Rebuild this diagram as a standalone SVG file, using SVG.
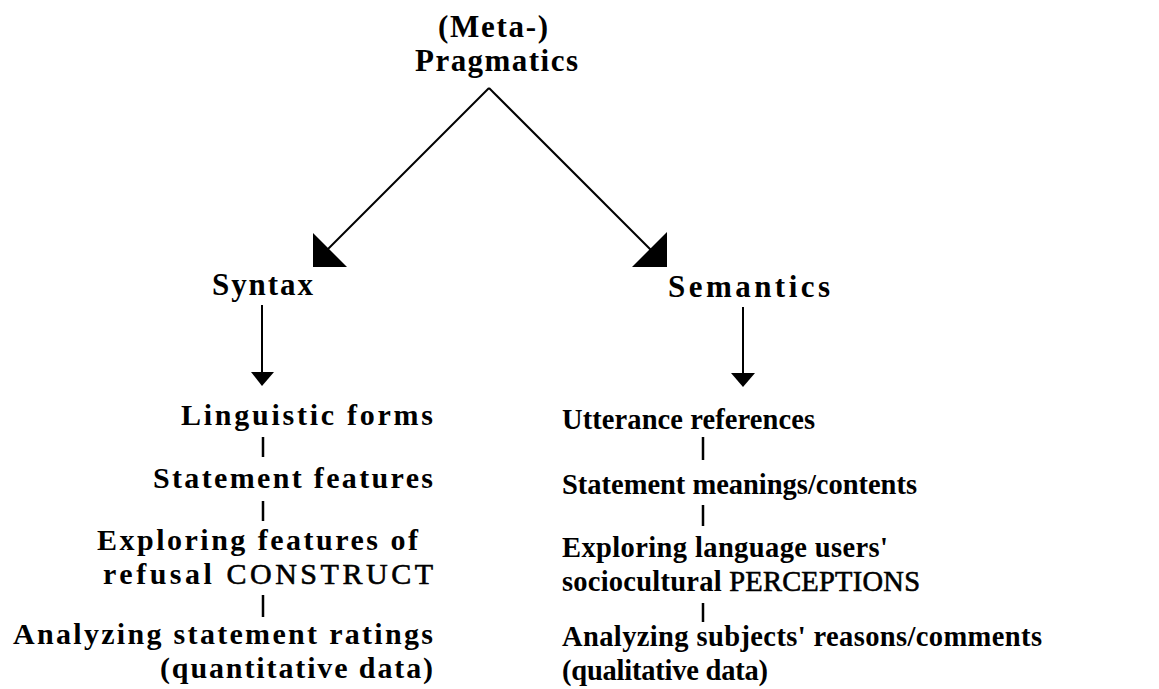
<svg xmlns="http://www.w3.org/2000/svg" width="1159" height="689" viewBox="0 0 1159 689">
<style>
text{font-family:"Liberation Serif","Times New Roman",serif;font-weight:bold;fill:#000}
.t{font-size:31px}
.b{font-size:30px}
.r{font-size:28.5px}
.n{font-weight:normal;stroke:#000;stroke-width:0.6}
.ln{stroke:#000;stroke-width:2;fill:none}
.tk{stroke:#000;stroke-width:2.5;fill:none}
.hd{fill:#000;stroke:none}
</style>
<rect width="1159" height="689" fill="#fff"/>
<g id="pragmatics">
<text class="t" x="438" y="37" textLength="110" lengthAdjust="spacing">(Meta-)</text>
<text class="t" x="415" y="71" textLength="163" lengthAdjust="spacing">Pragmatics</text>
</g>
<g id="syntax">
<text class="t" x="212" y="295" textLength="101" lengthAdjust="spacing">Syntax</text>
</g>
<g id="semantics">
<text class="t" x="668" y="297" textLength="162" lengthAdjust="spacing">Semantics</text>
</g>
<g id="syntax-items">
<text class="b" x="181" y="425" textLength="252" lengthAdjust="spacing">Linguistic  forms</text>
<text class="b" x="153" y="488" textLength="280" lengthAdjust="spacing">Statement  features</text>
<text class="b" x="97" y="550" textLength="321" lengthAdjust="spacing">Exploring  features  of</text>
<text class="b" x="103" y="584" textLength="330" lengthAdjust="spacing">refusal  <tspan class="n">CONSTRUCT</tspan></text>
<text class="b" x="13" y="644" textLength="420" lengthAdjust="spacing">Analyzing  statement  ratings</text>
<text class="b" x="160" y="678" textLength="273" lengthAdjust="spacing">(quantitative  data)</text>
</g>
<g id="semantics-items">
<text class="r" x="562" y="429" textLength="253" lengthAdjust="spacing">Utterance  references</text>
<text class="r" x="562" y="494" textLength="355" lengthAdjust="spacing">Statement  meanings/contents</text>
<text class="r" x="562" y="557" textLength="326" lengthAdjust="spacing">Exploring  language  users'</text>
<text class="r" x="562" y="591" textLength="358" lengthAdjust="spacing">sociocultural  <tspan class="n">PERCEPTIONS</tspan></text>
<text class="r" x="562" y="646" textLength="480" lengthAdjust="spacing">Analyzing  subjects'  reasons/comments</text>
<text class="r" x="562" y="680" textLength="206" lengthAdjust="spacing">(qualitative  data)</text>
</g>
<g id="connectors">
<path class="ln" d="M489 88 L324 253"/>
<polygon class="hd" points="313,233 313,267 347,267"/>
<path class="ln" d="M489 88 L655 254"/>
<polygon class="hd" points="667,232 667,267 632,267"/>
<path class="ln" d="M262 305 V376"/>
<polygon class="hd" points="251,372 274,372 262,386"/>
<path class="ln" d="M743 307 V377"/>
<polygon class="hd" points="731,373 755,373 743,387"/>
<path class="tk" d="M263 437 V457 M263 501 V521 M263 595 V617"/>
<path class="tk" d="M703 437 V460 M703 505 V526 M703 603 V622"/>
</g>
</svg>
